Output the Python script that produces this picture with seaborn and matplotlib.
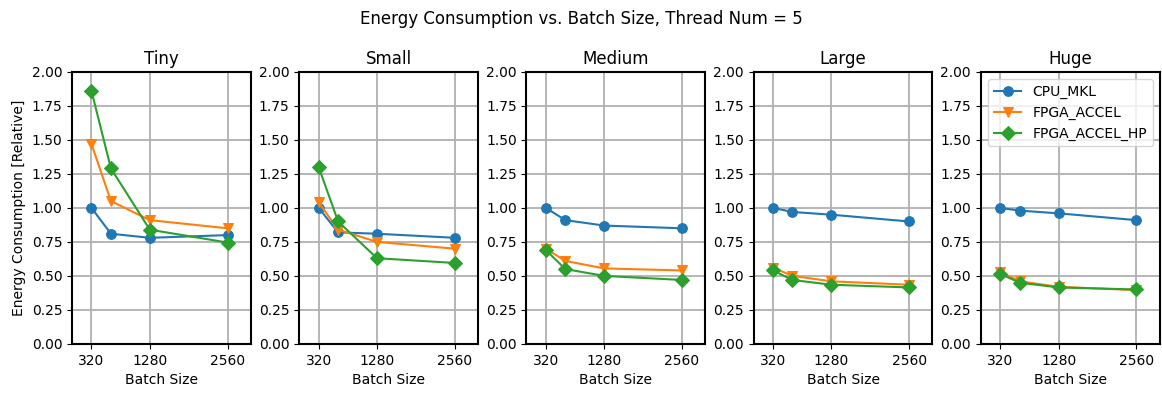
import pandas as pd
import matplotlib
matplotlib.use("Agg")
import matplotlib.pyplot as plt
import seaborn as sns

# ── data ──────────────────────────────────────────────────────────────────────
batch_sizes = [320, 640, 1280, 2560]
models = ["Tiny", "Small", "Medium", "Large", "Huge"]
methods = ["CPU_MKL", "FPGA_ACCEL", "FPGA_ACCEL_HP"]

cpu_mkl = {
    "Tiny":   [1.00, 0.81, 0.78, 0.80],
    "Small":  [1.00, 0.82, 0.81, 0.78],
    "Medium": [1.00, 0.91, 0.87, 0.85],
    "Large":  [1.00, 0.97, 0.95, 0.90],
    "Huge":   [1.00, 0.98, 0.96, 0.91],
}
fpga_accel = {
    "Tiny":   [1.47, 1.05, 0.91, 0.85],
    "Small":  [1.04, 0.84, 0.75, 0.70],
    "Medium": [0.70, 0.61, 0.555, 0.54],
    "Large":  [0.56, 0.50, 0.46, 0.435],
    "Huge":   [0.53, 0.46, 0.42, 0.395],
}
fpga_accel_hp = {
    "Tiny":   [1.86, 1.29, 0.84, 0.745],
    "Small":  [1.30, 0.90, 0.63, 0.595],
    "Medium": [0.69, 0.55, 0.50, 0.47],
    "Large":  [0.54, 0.47, 0.435, 0.415],
    "Huge":   [0.515, 0.45, 0.415, 0.40],
}

rows = []
for m in models:
    for name, src in zip(methods, [cpu_mkl, fpga_accel, fpga_accel_hp]):
        for b, v in zip(batch_sizes, src[m]):
            rows.append({"model": m, "method": name, "batch": b, "energy": v})
df = pd.DataFrame(rows)

colors = {"CPU_MKL": "#1f77b4", "FPGA_ACCEL": "#ff7f0e", "FPGA_ACCEL_HP": "#2ca02c"}
markers = {"CPU_MKL": "o", "FPGA_ACCEL": "v", "FPGA_ACCEL_HP": "D"}

# ── plot ──────────────────────────────────────────────────────────────────────
fig, axes = plt.subplots(1, 5, figsize=(11.62, 3.93), dpi=100)
fig.subplots_adjust(left=0.062, right=0.998, top=0.817, bottom=0.125, wspace=0.27)

for ax, m in zip(axes, models):
    sub = df[df["model"] == m]
    for name in methods:
        d = sub[sub["method"] == name]
        sns.lineplot(data=d, x="batch", y="energy", ax=ax, color=colors[name],
                     marker=markers[name], markersize=7, markeredgecolor=colors[name],
                     linewidth=1.5, label=name, legend=False)
    ax.set_title(m, fontsize=12)
    ax.set_xlim(0, 2944)
    ax.set_ylim(0, 2.0)
    ax.set_xticks([320, 1280, 2560])
    ax.set_yticks([0, 0.25, 0.5, 0.75, 1.0, 1.25, 1.5, 1.75, 2.0])
    ax.set_yticklabels([f"{v:.2f}" for v in ax.get_yticks()])
    ax.grid(True, color="#b0b0b0", linewidth=1.3)
    ax.set_axisbelow(True)
    ax.set_xlabel("Batch Size")
    ax.set_ylabel("")
    for s in ax.spines.values():
        s.set_linewidth(1.5)

axes[0].set_ylabel("Energy Consumption [Relative]")
axes[-1].legend(loc="upper right", fontsize=10)
fig.suptitle("Energy Consumption vs. Batch Size, Thread Num = 5", fontsize=12, y=0.975)

plt.savefig("out.png", dpi=100)
